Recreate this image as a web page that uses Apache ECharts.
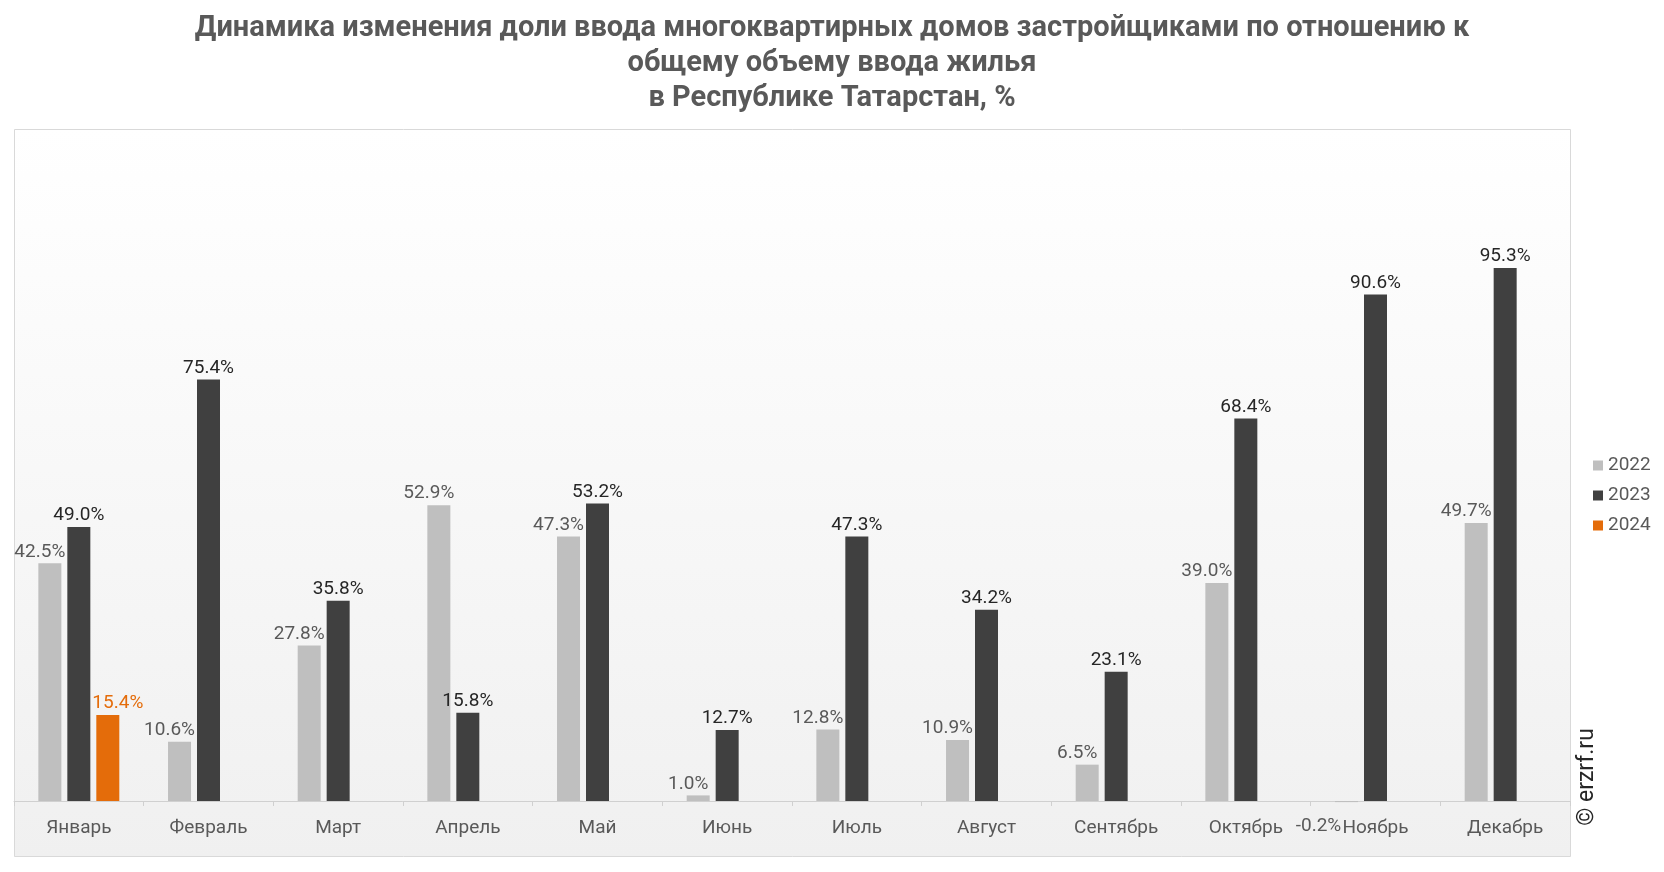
<!DOCTYPE html>
<html>
<head>
<meta charset="utf-8">
<title>Доля ввода МКД застройщиками — Татарстан</title>
<script src="https://cdn.jsdelivr.net/npm/echarts@6/dist/echarts.min.js"></script>
<style>
  html, body { margin: 0; padding: 0; background: #fff; }
  #chart { width: 1664px; height: 872px; }
</style>
</head>
<body>
<div id="chart"></div>
<script>
// месяцы
var months = ['Январь', 'Февраль', 'Март', 'Апрель', 'Май', 'Июнь', 'Июль', 'Август', 'Сентябрь', 'Октябрь', 'Ноябрь', 'Декабрь'];
var years = ['2022', '2023', '2024'];
// доля ввода, %
var share2022 = [42.5, 10.6, 27.8, 52.9, 47.3, 1.0, 12.8, 10.9, 6.5, 39.0, -0.2, 49.7];
var share2023 = [49.0, 75.4, 35.8, 15.8, 53.2, 12.7, 47.3, 34.2, 23.1, 68.4, 90.6, 95.3];
var share2024 = [15.4, null, null, null, null, null, null, null, null, null, null, null];

var FONT = 'Roboto';

function pct(p) {
  return p.value.toFixed(1) + '%';
}

// отрицательное значение подписываем под осью
function withNegLabels(arr) {
  return arr.map(function (v) {
    if (v !== null && v < 0) {
      return { value: v, label: { position: 'bottom', distance: 15, offset: [-28, 0] } };
    }
    return v;
  });
}

function barSeries(name, data, color, labelColor, dx) {
  return {
    name: name,
    type: 'bar',
    data: withNegLabels(data),
    barWidth: 23,
    barGap: '26%',
    clip: false,
    itemStyle: { color: color },
    label: {
      show: true,
      position: 'top',
      distance: 2,
      offset: [dx, 0],
      formatter: pct,
      color: labelColor,
      fontFamily: FONT,
      fontSize: 19
    }
  };
}

var myChart = echarts.init(document.getElementById('chart'));
var option = {
  animation: false,
  title: {
    text: 'Динамика изменения доли ввода многоквартирных домов застройщиками по отношению к\nобщему объему ввода жилья\nв Республике Татарстан, %',
    left: 'center',
    top: 6,
    textStyle: {
      fontFamily: FONT,
      fontSize: 29,
      fontWeight: 'bold',
      color: '#595959',
      lineHeight: 35,
      align: 'center'
    }
  },
  legend: {
    orient: 'vertical',
    left: 1588,
    top: 451,
    itemWidth: 10,
    itemHeight: 10,
    itemGap: 11,
    icon: 'rect',
    data: years,
    textStyle: { fontFamily: FONT, fontSize: 19, color: '#595959' }
  },
  grid: {
    left: 14,
    right: 94,
    top: 130,
    bottom: 71,
    outerBoundsMode: 'none',
    containLabel: false
  },
  xAxis: {
    type: 'category',
    data: months,
    axisLine: { lineStyle: { color: '#d0d0d0', width: 1 } },
    axisTick: { show: true, length: 5, lineStyle: { color: '#d0d0d0' } },
    axisLabel: { color: '#595959', fontFamily: FONT, fontSize: 19, margin: 18 }
  },
  yAxis: {
    type: 'value',
    min: 0,
    max: 120,
    show: false,
    splitLine: { show: false }
  },
  series: [
    barSeries('2022', share2022, '#bfbfbf', '#595959', -10),
    barSeries('2023', share2023, '#404040', '#262626', 0),
    barSeries('2024', share2024, '#e46c0a', '#e46c0a', 10)
  ],
  graphic: [{
    // фон и рамка области построения
    type: 'rect',
    z: -10,
    silent: true,
    shape: { x: 14.5, y: 129.5, width: 1556, height: 727 },
    style: {
      fill: new echarts.graphic.LinearGradient(0, 0, 0, 1, [
        { offset: 0, color: '#ffffff' },
        { offset: 1, color: '#f0f0f0' }
      ]),
      stroke: '#d9d9d9',
      lineWidth: 1
    }
  }, {
    type: 'text',
    x: 1587,
    y: 777,
    rotation: Math.PI / 2,
    style: {
      text: '© erzrf.ru',
      fontFamily: FONT,
      fontSize: 23,
      fill: '#262626',
      align: 'center',
      verticalAlign: 'middle'
    }
  }]
};
myChart.setOption(option);
</script>
</body>
</html>
